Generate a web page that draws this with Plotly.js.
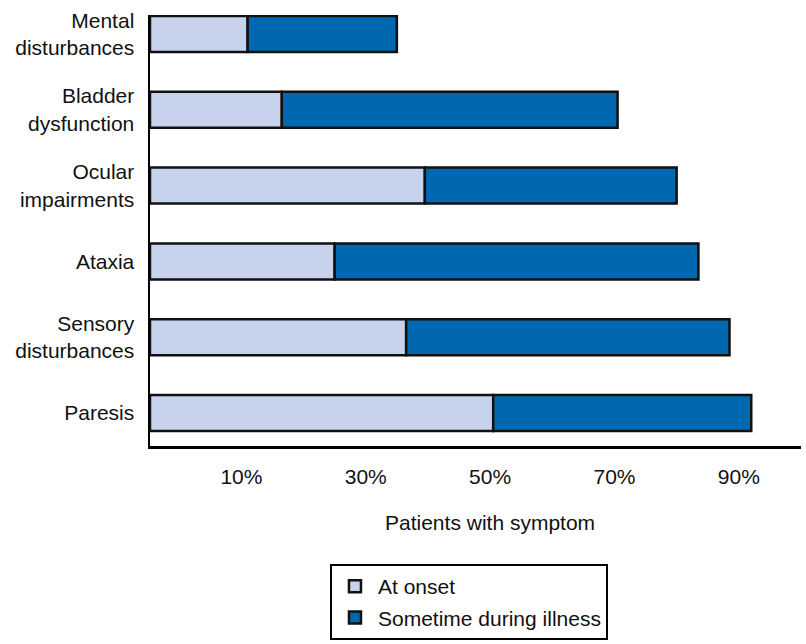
<!DOCTYPE html>
<html>
<head>
<meta charset="utf-8">
<script src="https://cdn.plot.ly/plotly-3.0.1.min.js"></script>
<style>html,body{margin:0;padding:0;background:#fff;}#chart{width:806px;height:644px;}</style>
</head>
<body>
<div id="chart"></div>
<script>
// Data (percent of patients), top to bottom
var categories = ["Mental<br>disturbances", "Bladder<br>dysfunction", "Ocular<br>impairments", "Ataxia", "Sensory<br>disturbances", "Paresis"];
var atOnset = [11, 16.5, 39.5, 25, 36.5, 50.5];
var sometime = [35, 70.5, 80, 83.5, 88.5, 92];
var tickValues = [10, 30, 50, 70, 90];
var tickLabels = ["10%", "30%", "50%", "70%", "90%"];

var XMIN = -4.7, XMAX = 100;
var FONT = "Liberation Sans, Arial, sans-serif";
var FS = 21;

var onsetLen = atOnset.map(function(v){ return v - XMIN; });
var onsetBase = atOnset.map(function(){ return XMIN; });
var laterLen = sometime.map(function(v, i){ return v - atOnset[i]; });

var traces = [
  {
    type: "bar", orientation: "h", name: "At onset", legendgroup: "a",
    y: categories, x: onsetLen, base: onsetBase, width: 0.475,
    marker: {color: "#c7d3ec", line: {color: "#111", width: 2.5}},
    hoverinfo: "skip"
  },
  {
    type: "bar", orientation: "h", name: "Sometime during illness", legendgroup: "b",
    y: categories, x: laterLen, base: atOnset, width: 0.475,
    marker: {color: "#0068b0", line: {color: "#111", width: 2.5}},
    hoverinfo: "skip"
  }
];

var layout = {
  width: 806, height: 644,
  margin: {l: 150, r: 5, t: 15, b: 198, autoexpand: false},
  paper_bgcolor: "#fff", plot_bgcolor: "#fff",
  barmode: "overlay",
  font: {family: FONT, size: FS, color: "#111"},
  xaxis: {
    range: [XMIN, XMAX],
    tickvals: tickValues, ticktext: tickLabels,
    showgrid: false, zeroline: false,
    showline: true, linecolor: "#000", linewidth: 2.5,
    ticks: "", ticklabelstandoff: 10,
    tickfont: {family: FONT, size: FS, color: "#111"},
    fixedrange: true
  },
  yaxis: {
    type: "category", categoryorder: "array", categoryarray: categories,
    range: [5.435, -0.25],
    showgrid: false, zeroline: false,
    showline: true, linecolor: "#000", linewidth: 2.5,
    ticks: "", ticklabelstandoff: 9,
    tickfont: {family: FONT, size: FS, color: "#111"},
    fixedrange: true
  },
  annotations: [{
    text: "Patients with symptom", xref: "x", yref: "paper",
    x: 50, y: 0, yshift: -76, xanchor: "center", yanchor: "middle",
    showarrow: false, font: {family: FONT, size: FS, color: "#111"}
  }],
  showlegend: true,
  legend: {
    xref: "container", yref: "container",
    x: 0.4094, y: 0.1242, xanchor: "left", yanchor: "top",
    bgcolor: "#fff", bordercolor: "#000", borderwidth: 2,
    font: {family: FONT, size: FS, color: "#111"},
    traceorder: "grouped", tracegroupgap: 1, itemwidth: 36
  }
};

Plotly.newPlot("chart", traces, layout, {displayModeBar: false, staticPlot: true});
</script>
</body>
</html>
